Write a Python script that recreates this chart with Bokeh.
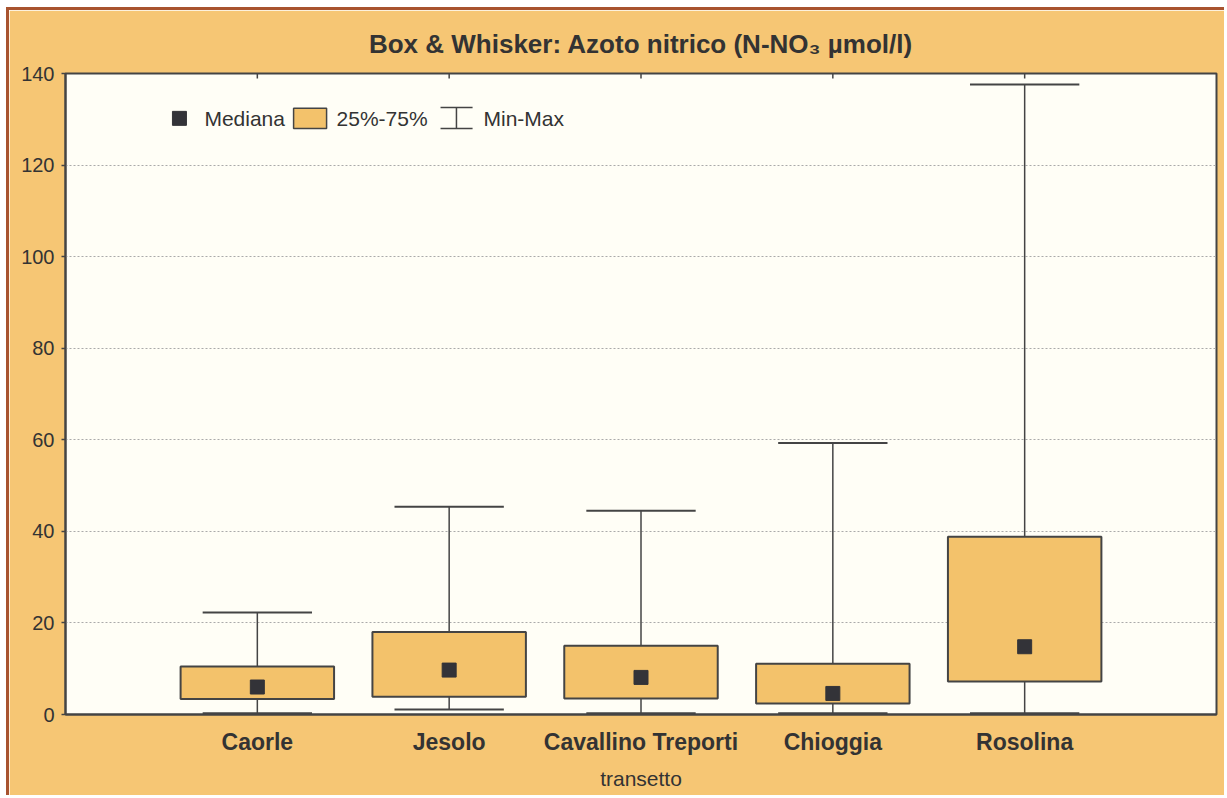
from bokeh.plotting import figure
from bokeh.models import Range1d, FixedTicker, ColumnDataSource
from bokeh.core.properties import value
from bokeh.embed import file_html
from bokeh.resources import INLINE

# Nitrate nitrogen (N-NO3, µmol/l) by transect
categories = ["Caorle", "Jesolo", "Cavallino Treporti", "Chioggia", "Rosolina"]
minimum = [0.3, 1.1, 0.3, 0.3, 0.3]
q1 = [3.4, 3.9, 3.5, 2.4, 7.2]
median = [6.0, 9.7, 8.1, 4.6, 14.8]
q3 = [10.5, 18.0, 15.0, 11.1, 38.8]
maximum = [22.3, 45.4, 44.5, 59.3, 137.6]
y_ticks = [0, 20, 40, 60, 80, 100, 120, 140]

FONT = "Liberation Sans"
DARK = "#333333"
LINE = "#444444"
BG = "#F6C674"
BOX = "#F3C26B"
PANEL = "#FFFEF6"
BROWN = "#A8532F"

Y_MAX = 140
pos = list(range(1, len(categories) + 1))
src = ColumnDataSource(dict(
    x=pos, lo=minimum, q1=q1, med=median, q3=q3, hi=maximum,
    cap_l=[v - 0.285 for v in pos], cap_r=[v + 0.285 for v in pos],
))

p = figure(
    width=1218, height=788,
    x_range=Range1d(0, 6), y_range=Range1d(0, Y_MAX),
    output_backend="svg", toolbar_location=None,
    min_border_left=56, min_border_right=11, min_border_top=63, min_border_bottom=84,
    background_fill_color=PANEL, border_fill_color=BG,
    outline_line_color=LINE, outline_line_width=2,
    styles={"margin-top": "7px", "margin-left": "6px",
            "border-top": f"3px solid {BROWN}", "border-left": f"3px solid {BROWN}"},
)

# title
p.title.text = "Box & Whisker: Azoto nitrico (N-NO\u2083 \u00b5mol/l)"
p.title.align = "center"
p.title.offset = -22
p.title.standoff = 29
p.title.text_font = FONT
p.title.text_font_size = "26px"
p.title.text_font_style = "bold"
p.title.text_color = DARK

# short inward ticks along the top edge at each transect
p.segment(x0=pos, y0=[Y_MAX] * len(pos), x1=pos, y1=[Y_MAX - 1.1] * len(pos),
          line_color=LINE, line_width=1.5)

# whiskers (min to max) and caps
p.segment(x0="x", y0="lo", x1="x", y1="hi", source=src, line_color=LINE, line_width=1.5)
p.segment(x0="cap_l", y0="hi", x1="cap_r", y1="hi", source=src, line_color=LINE, line_width=2)
p.segment(x0="cap_l", y0="lo", x1="cap_r", y1="lo", source=src, line_color=LINE, line_width=2)

# interquartile boxes
p.vbar(x="x", width=0.8, bottom="q1", top="q3", source=src,
       fill_color=BOX, line_color=LINE, line_width=2)

# medians
p.scatter(x="x", y="med", source=src, marker="square", size=14,
          fill_color="#333338", line_color="#333338")

# legend, laid out inside the top-left of the panel
LEG_Y = 130.2
p.scatter(x=[0.594], y=[LEG_Y], marker="square", size=14, fill_color="#333338", line_color="#333338")
p.quad(left=[1.189], right=[1.361], bottom=[128.0], top=[132.4],
       fill_color=BOX, line_color=LINE, line_width=1.5)
p.segment(x0=[2.038], y0=[128.0], x1=[2.038], y1=[132.55], line_color=LINE, line_width=1.5)
p.segment(x0=[1.955, 1.955], y0=[128.0, 132.55], x1=[2.122, 2.122], y1=[128.0, 132.55],
          line_color=LINE, line_width=1.5)
p.text(x=[0.724, 1.413, 2.179], y=[LEG_Y] * 3, text=["Mediana", "25%-75%", "Min-Max"],
       text_font=value(FONT), text_font_size="21px", text_color=DARK,
       text_baseline="middle", text_align="left")

# axes
p.xgrid.visible = False
p.ygrid.ticker = FixedTicker(ticks=y_ticks)
p.ygrid.grid_line_color = "#AAAAAA"
p.ygrid.grid_line_dash = "2 2"
p.ygrid.grid_line_width = 1

xa = p.xaxis[0]
xa.ticker = FixedTicker(ticks=pos)
xa.major_label_overrides = {i: c for i, c in zip(pos, categories)}
xa.major_label_text_font = FONT
xa.major_label_text_font_size = "23px"
xa.major_label_text_font_style = "bold"
xa.major_label_text_color = DARK
xa.major_tick_line_color = None
xa.minor_tick_line_color = None
xa.major_tick_out = 0
xa.major_tick_in = 0
xa.major_label_standoff = 14
xa.axis_line_color = LINE
xa.axis_line_width = 2
xa.axis_label = "transetto"
xa.axis_label_text_font = FONT
xa.axis_label_text_font_size = "21px"
xa.axis_label_text_font_style = "normal"
xa.axis_label_text_color = DARK
xa.axis_label_standoff = 9

ya = p.yaxis[0]
ya.ticker = FixedTicker(ticks=y_ticks)
ya.major_label_text_font = FONT
ya.major_label_text_font_size = "20px"
ya.major_label_text_color = DARK
ya.major_tick_out = 4
ya.major_tick_in = 0
ya.major_tick_line_color = LINE
ya.major_tick_line_width = 1.5
ya.minor_tick_line_color = None
ya.major_label_standoff = 7
ya.axis_line_color = LINE
ya.axis_line_width = 2

open("out.html", "w").write(file_html(p, INLINE))
